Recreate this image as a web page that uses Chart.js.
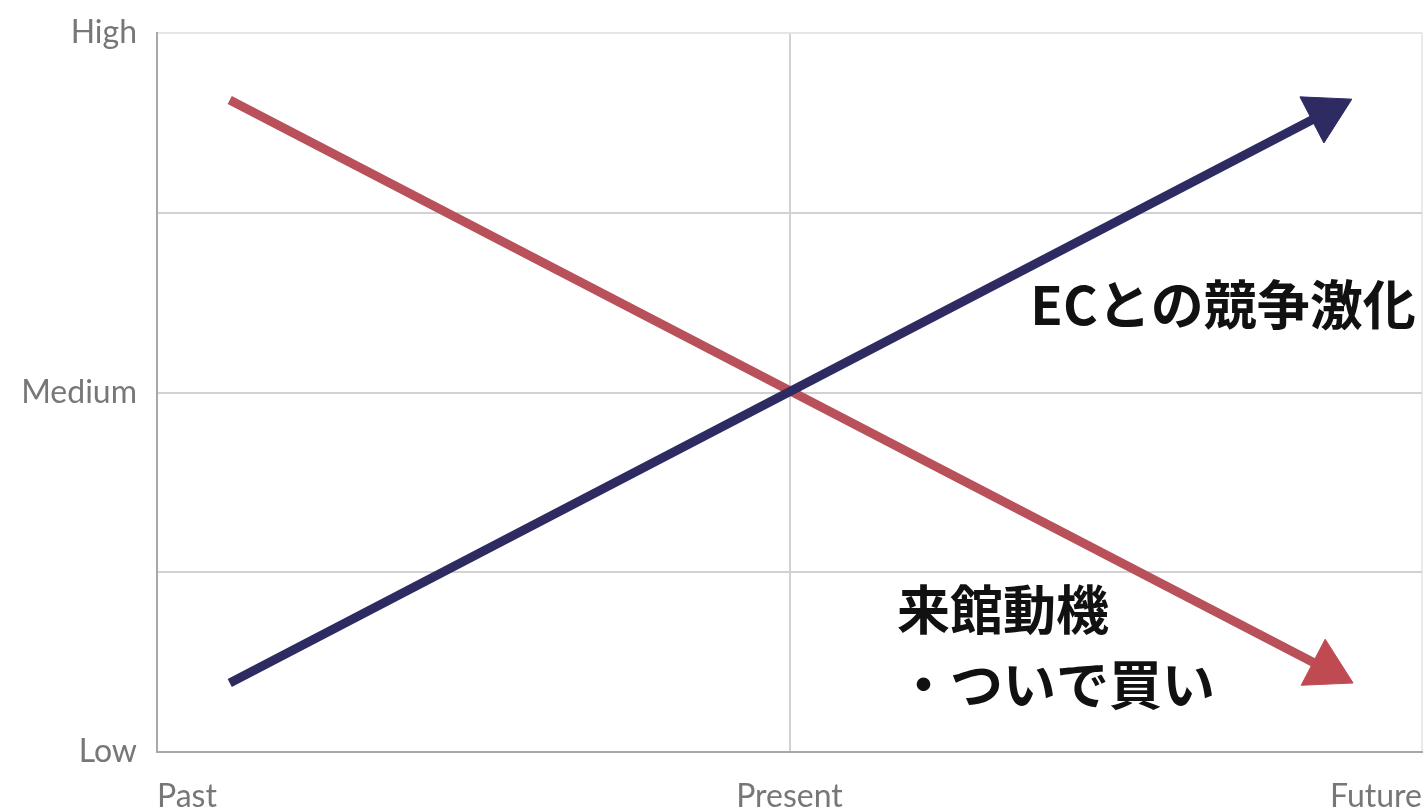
<!DOCTYPE html>
<html>
<head>
<meta charset="utf-8">
<script src="https://cdn.jsdelivr.net/npm/chart.js@4/dist/chart.umd.min.js"></script>
<style>
  html, body { margin: 0; padding: 0; background: #fff; overflow: hidden; }
  #wrap { width: 1428px; height: 808px; position: relative; }
</style>
</head>
<body>
<div id="wrap"><canvas id="trend"></canvas></div>
<script>
// axis labels
const timeLabels = ["Past", "Present", "Future"];
const levelLabels = ["Low", "", "Medium", "", "High"];

// series: [x, y] in axis units (x: 0 = Past .. 2 = Future, y: 0 = Low .. 4 = High)
const ecX = [0.115, 1.847];
const ecY = [0.384, 3.555];
const visitX = [0.115, 1.849];
const visitY = [3.627, 0.461];

const ecLabel = ["ECとの競争激化"];
const visitLabel = ["来館動機", "・ついで買い"];

const blue = "#2e2a62";
const red = "#b9515b";

const toPoints = (xs, ys) => xs.map((x, i) => ({ x: x, y: ys[i] }));

// text next to the arrows
const notePlugin = {
  id: "notes",
  afterDatasetsDraw(chart) {
    const c = chart.ctx;
    const sx = chart.scales.x, sy = chart.scales.y;
    c.save();
    c.fillStyle = "#111";
    c.font = "bold 53px 'Noto Sans CJK JP'";
    c.textBaseline = "middle";
    c.textAlign = "right";
    c.fillText(ecLabel[0], sx.getPixelForValue(1.99), sy.getPixelForValue(2.49));
    c.textAlign = "left";
    c.fillText(visitLabel[0], sx.getPixelForValue(1.17), sy.getPixelForValue(0.79));
    c.fillText(visitLabel[1], sx.getPixelForValue(1.17), sy.getPixelForValue(0.375));
    c.restore();
  }
};

// keep the chart area where the layout padding puts it
const noOverflow = (s) => {
  s.paddingTop = 0; s.paddingBottom = 0; s.paddingLeft = 0; s.paddingRight = 0;
};

const ctx = document.getElementById("trend").getContext("2d");
const trend = new Chart(ctx, {
  type: "line",
  data: {
    datasets: [
      {
        label: "EC",
        data: toPoints(ecX, ecY),
        borderColor: blue,
        backgroundColor: blue,
        borderWidth: 9,
        pointStyle: "triangle",
        pointRadius: [0, 30],
        pointRotation: [0, 62.5],
        pointBackgroundColor: blue,
        pointBorderColor: blue,
        pointBorderWidth: 1,
      },
      {
        label: "Visit",
        data: toPoints(visitX, visitY),
        borderColor: red,
        backgroundColor: red,
        borderWidth: 9,
        pointStyle: "triangle",
        pointRadius: [0, 30],
        pointRotation: [0, 117.5],
        pointBackgroundColor: "#c04a52",
        pointBorderColor: "#c04a52",
        pointBorderWidth: 1,
      },
    ],
  },
  options: {
    responsive: true,
    maintainAspectRatio: false,
    animation: false,
    layout: {
      autoPadding: false,
      padding: { top: 33, right: 6, left: 0, bottom: 0 },
    },
    plugins: {
      legend: { display: false },
      tooltip: { enabled: false },
    },
    scales: {
      x: {
        type: "linear",
        min: 0,
        max: 2,
        ticks: {
          stepSize: 1,
          align: "inner",
          padding: 25,
          color: "#777",
          font: { family: "Lato", size: 32 },
          callback: (v) => timeLabels[v] || "",
        },
        grid: {
          drawTicks: false,
          lineWidth: 2,
          color: (c) => (c.tick && c.tick.value === 2 ? "#eaeaea" : "#d2d2d2"),
        },
        border: { color: "#a8a8a8", width: 2 },
        afterFit: (s) => { s.height = 56; noOverflow(s); },
      },
      y: {
        min: 0,
        max: 4,
        ticks: {
          stepSize: 1,
          padding: 20,
          color: "#777",
          font: { family: "Lato", size: 32 },
          callback: (v) => levelLabels[v] || "",
        },
        grid: {
          drawTicks: false,
          lineWidth: 2,
          color: (c) => (c.tick && c.tick.value === 4 ? "#e6e6e6" : "#d2d2d2"),
        },
        border: { color: "#a8a8a8", width: 2 },
        afterFit: (s) => { s.width = 157; noOverflow(s); },
      },
    },
  },
  plugins: [notePlugin],
});
</script>
</body>
</html>
